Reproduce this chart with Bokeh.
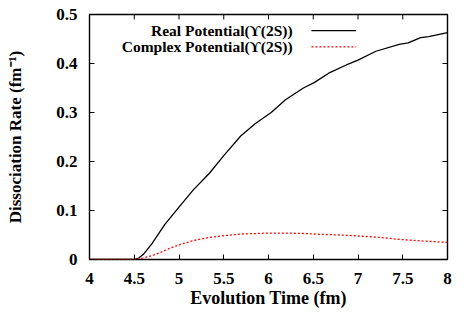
import math
from bokeh.plotting import figure
from bokeh.models import Label, FixedTicker, Range1d
from bokeh.embed import file_html
from bokeh.resources import INLINE

# ---- data ----
real_t = [4.0, 4.5, 4.55, 4.6, 4.7, 4.84, 5.0, 5.16, 5.34, 5.5, 5.69, 5.85, 6.03, 6.19,
          6.39, 6.51, 6.69, 6.87, 7.0, 7.2, 7.46, 7.56, 7.7, 7.79, 8.0]
real_rate = [0.0, 0.0, 0.003, 0.010, 0.033, 0.071, 0.107, 0.142, 0.176, 0.212, 0.252, 0.277,
             0.300, 0.326, 0.350, 0.361, 0.382, 0.397, 0.407, 0.425, 0.439, 0.442, 0.453, 0.455, 0.463]
cplx_t = [4.0, 4.5, 4.6, 4.7, 4.8, 4.9, 5.0, 5.17, 5.34, 5.52, 5.7, 5.85, 6.0, 6.2,
          6.4, 6.56, 6.8, 7.0, 7.25, 7.46, 7.7, 8.0]
cplx_rate = [0.0, 0.0, 0.003, 0.008, 0.015, 0.023, 0.030, 0.039, 0.045, 0.049, 0.052, 0.053,
             0.054, 0.054, 0.053, 0.0515, 0.050, 0.048, 0.045, 0.041, 0.038, 0.035]
x_ticks = [4, 4.5, 5, 5.5, 6, 6.5, 7, 7.5, 8]
y_ticks = [0, 0.1, 0.2, 0.3, 0.4, 0.5]
labels = ["Real Potential(\u03d2(2S))", "Complex Potential(\u03d2(2S))"]

# ---- layout / style ----
FONT = "Liberation Serif"
FS_TICK = "17px"
FS_XLAB = "18px"
FS_YLAB = "17px"
FS_LEG = "15.5px"
X0, X1, Y0, Y1 = 4, 8, 0, 0.5
legend_text_x = 6.27
legend_line_x = [6.48, 6.98]
legend_y = [0.467, 0.434]

p = figure(width=455, height=310, output_backend="svg", toolbar_location=None,
           x_range=Range1d(X0, X1), y_range=Range1d(Y0, Y1),
           min_border_left=89, min_border_right=8, min_border_top=14, min_border_bottom=10)
p.xgrid.visible = False
p.ygrid.visible = False
p.outline_line_color = "black"
p.outline_line_width = 1.4
p.background_fill_color = "white"
p.border_fill_color = "white"

for ax, ticks in ((p.xaxis[0], x_ticks), (p.yaxis[0], y_ticks)):
    ax.ticker = FixedTicker(ticks=ticks)
    ax.minor_tick_line_color = None
    ax.major_tick_in = 5
    ax.major_tick_out = 0
    ax.major_tick_line_color = "black"
    ax.axis_line_color = None
    ax.major_label_text_font = FONT
    ax.major_label_text_font_style = "bold"
    ax.major_label_text_font_size = FS_TICK
    ax.major_label_text_color = "black"
    ax.axis_label_text_font = FONT
    ax.axis_label_text_font_style = "bold"
    ax.axis_label_text_color = "black"

p.xaxis[0].axis_label = "Evolution Time (fm)"
p.yaxis[0].axis_label = "Dissociation Rate (fm\u207b\u00b9)"
p.xaxis[0].axis_label_text_font_size = FS_XLAB
p.yaxis[0].axis_label_text_font_size = FS_YLAB
p.xaxis[0].major_label_standoff = 13
p.xaxis[0].axis_label_standoff = 1
p.yaxis[0].major_label_standoff = 12
p.yaxis[0].axis_label_standoff = 28
p.yaxis[0].formatter.use_scientific = False

# mirror ticks on top and right
p.ray(x=x_ticks, y=[Y1] * len(x_ticks), length=5, length_units="screen",
      angle=-math.pi / 2, line_color="black", line_width=1)
p.ray(x=[X1] * len(y_ticks), y=y_ticks, length=5, length_units="screen",
      angle=math.pi, line_color="black", line_width=1)

p.line(real_t, real_rate, line_color="black", line_width=1.3)
p.line(cplx_t, cplx_rate, line_color="red", line_width=1.3, line_dash="2 2")

for lab, yy, col, dash in zip(labels, legend_y, ["black", "red"], ["solid", "2 2"]):
    p.add_layout(Label(x=legend_text_x, y=yy, text=lab, text_align="right",
                       text_baseline="middle", text_font=FONT, text_font_style="bold",
                       text_font_size=FS_LEG, text_color="black"))
    p.line(legend_line_x, [yy, yy], line_color=col, line_width=1.3, line_dash=dash)

open("out.html", "w").write(file_html(p, INLINE))
